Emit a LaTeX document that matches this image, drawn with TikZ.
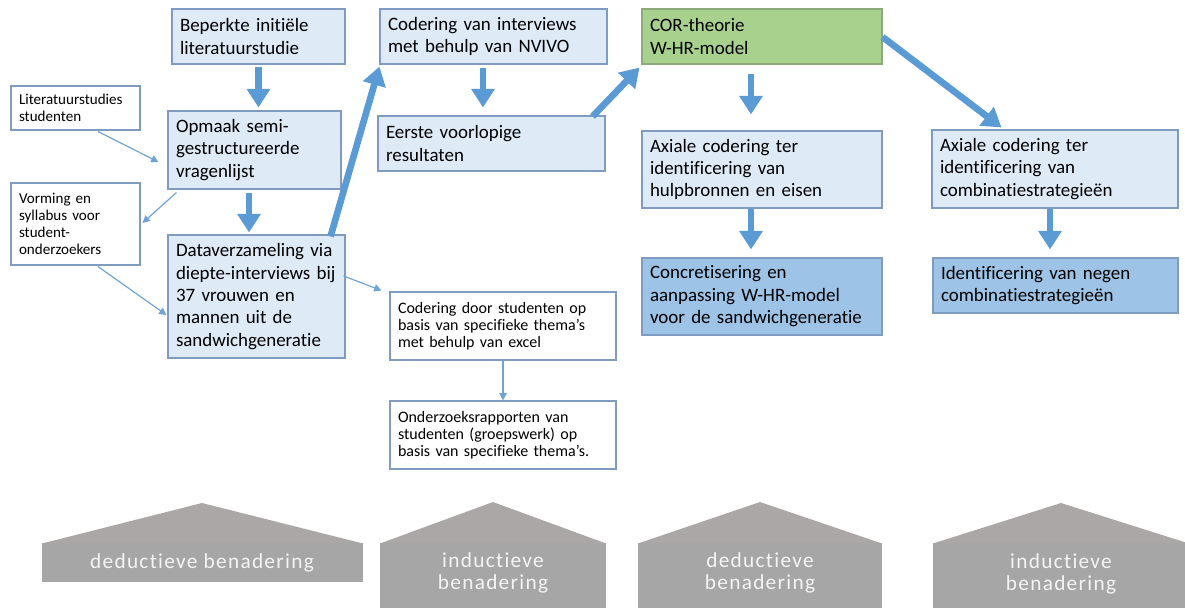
\documentclass[tikz,border=0pt]{standalone}
\usepackage{fontspec}
\setmainfont[Ligatures=NoCommon]{Carlito}
\newfontfamily\widefont[LetterSpace=6,Ligatures=NoCommon]{Carlito}
\usetikzlibrary{arrows.meta,calc}
\definecolor{lightfill}{HTML}{DEEBF7}
\definecolor{boxborder}{HTML}{7F9CC0}
\definecolor{greenfill}{HTML}{A9D18E}
\definecolor{greenborder}{HTML}{8CAA7C}
\definecolor{darkfill}{HTML}{9DC3E6}
\definecolor{arrowblue}{HTML}{5B9BD5}
\definecolor{thinblue}{HTML}{6FA3D6}
\definecolor{roofgray}{HTML}{ABA7A7}
\definecolor{bodygray}{HTML}{A6A6A6}
\definecolor{pentext}{HTML}{F4F4F4}
\tikzset{
  basebox/.style={draw=boxborder, line width=0.8pt, inner xsep=6pt, inner ysep=1pt, align=left},
  bigbox/.style={basebox, fill=lightfill, font=\fontsize{14.2}{16.8}\selectfont},
  greenbox/.style={basebox, draw=greenborder, fill=greenfill, font=\fontsize{14.2}{16.8}\selectfont},
  darkbox/.style={basebox, fill=darkfill, font=\fontsize{14.2}{16.8}\selectfont},
  smallbox/.style={basebox, fill=white, font=\fontsize{11.3}{12.75}\selectfont},
  midbox/.style={basebox, fill=white, font=\fontsize{12}{12.6}\selectfont},
  thickarrow/.style={draw=arrowblue, line width=5pt, -{Triangle[width=17pt,length=14pt]}, arrowblue},
  thinarrow/.style={draw=thinblue, line width=0.9pt, -{Triangle[width=5.5pt,length=5.5pt]}, thinblue},
  pentlabel/.style={text=pentext, align=center, font=\widefont\fontsize{16}{16.5}\selectfont}
}
\begin{document}
\begin{tikzpicture}[x=0.75pt,y=-0.75pt]
\useasboundingbox (0,0) rectangle (1185,607);

% boxes
\node[bigbox, text width=117.75pt, minimum height=41.25pt] (beperkte) at (258.5,36.5) {Beperkte initiële\\literatuurstudie};
\node[smallbox, text width=84.75pt, minimum height=33pt] (litstud) at (75.5,108) {Literatuurstudies\\studenten};
\node[bigbox, text width=117.75pt, minimum height=58.5pt] (opmaak) at (254.5,150) {Opmaak semi-\\gestructureerde\\vragenlijst};
\node[smallbox, text width=84.75pt, minimum height=61.5pt] (vorming) at (75.5,224) {Vorming en\\syllabus voor\\student-\\onderzoekers};
\node[bigbox, text width=120.75pt, minimum height=92.25pt] (data) at (256.5,296.5) {Dataverzameling via\\diepte-interviews bij\\37 vrouwen en\\mannen uit de\\sandwichgeneratie};
\node[bigbox, text width=158.25pt, minimum height=41.25pt] (nvivo) at (493.5,36.5) {Codering van interviews\\met behulp van NVIVO};
\node[bigbox, text width=158.25pt, minimum height=41.25pt] (eerste) at (491.5,143.5) {Eerste voorlopige\\resultaten};
\node[greenbox, text width=168pt, minimum height=41.25pt] (cor) at (762,36.5) {COR-theorie\\W-HR-model};
\node[bigbox, text width=168pt, minimum height=57.75pt] (ax1) at (762,169.5) {Axiale codering ter\\identificering van\\hulpbronnen en eisen};
\node[bigbox, text width=172.5pt, minimum height=58.5pt] (ax2) at (1055,169) {Axiale codering ter\\identificering van\\combinatiestrategieën};
\node[darkbox, text width=168pt, minimum height=57.75pt] (conc) at (762,296.5) {Concretisering en\\aanpassing W-HR-model\\voor de sandwichgeneratie};
\node[darkbox, text width=171.75pt, minimum height=41.25pt] (ident) at (1055.5,285.5) {Identificering van negen\\combinatiestrategieën};
\node[midbox, text width=157.5pt, minimum height=51pt] (codstud) at (503,326) {Codering door studenten op\\basis van specifieke thema’s\\met behulp van excel};
\node[midbox, text width=157.5pt, minimum height=51pt] (onderz) at (503,435) {Onderzoeksrapporten van\\studenten (groepswerk) op\\basis van specifieke thema’s.};

% thick arrows
\draw[thickarrow] ($(beperkte.south)+(0,2)$) -- ($(beperkte.south|-opmaak.north)+(0,-3)$);
\draw[thickarrow] ($(opmaak.south)+(-5.5,3)$) -- ($(opmaak.south|-data.north)+(-5.5,-2)$);
\draw[thickarrow] ($(data.north east)+(-15,2)$) -- ($(nvivo.south west)+(0,2)$);
\draw[thickarrow] ($(nvivo.south)+(-10.5,3)$) -- ($(nvivo.south|-eerste.north)+(-10.5,-8)$);
\draw[thickarrow] ($(eerste.north east)+(-13,1)$) -- ($(cor.south west)+(-2,3)$);
\draw[thickarrow] ($(cor.south)+(-11,9)$) -- ($(cor.south|-ax1.north)+(-11,-16)$);
\draw[thickarrow] ($(cor.east)+(0,0.5)$) -- ($(ax2.north west)+(70,-2)$);
\draw[thickarrow] ($(ax1.south)+(-11,0)$) -- ($(ax1.south|-conc.north)+(-11,-8)$);
\draw[thickarrow] ($(ax2.south)+(-5,0)$) -- ($(ax2.south|-ident.north)+(-5,-8)$);

% thin arrows
\draw[thinarrow] ($(litstud.south)+(22.5,1)$) -- ($(opmaak.west)+(-9,12)$);
\draw[thinarrow] ($(opmaak.south west)+(9,3)$) -- ($(vorming.east)+(2,-1)$);
\draw[thinarrow] ($(vorming.south)+(22.5,1)$) -- ($(data.west)+(-1,18.5)$);
\draw[thinarrow] ($(data.east)+(-2,-20.5)$) -- ($(codstud.north west)+(-8,-1)$);
\draw[thinarrow] (codstud.south) -- (onderz.north);

% approach banners
\begin{scope}
\clip (0,0) rectangle (1185,607);
\fill[roofgray] (42,543.5) -- (202,503) -- (363,543.5) -- cycle;
\fill[bodygray] (42,543) rectangle (363,582);
\fill[roofgray] (380,543.5) -- (493,502) -- (606,543.5) -- cycle;
\fill[bodygray] (380,543) rectangle (606,610);
\fill[roofgray] (638,543.5) -- (760,502) -- (882,543.5) -- cycle;
\fill[bodygray] (638,543) rectangle (882,610);
\fill[roofgray] (933,543.5) -- (1061,503) -- (1189,543.5) -- cycle;
\fill[bodygray] (933,543) rectangle (1190,610);
\end{scope}
\node[pentlabel] (p1) at (202,563) {deductieve benadering};
\node[pentlabel] (p2) at (493,573) {inductieve\\benadering};
\node[pentlabel] (p3) at (760,573) {deductieve\\benadering};
\node[pentlabel] (p4) at (1061,574) {inductieve\\benadering};
\end{tikzpicture}
\end{document}
